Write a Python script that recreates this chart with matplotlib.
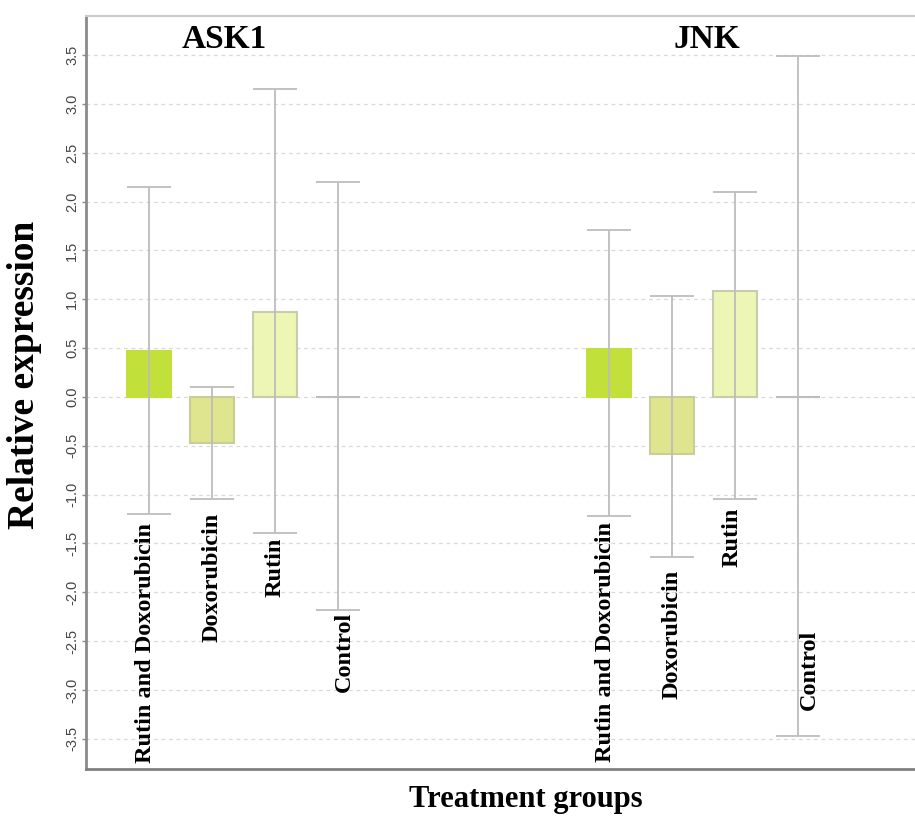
import matplotlib
matplotlib.use("Agg")
import matplotlib.pyplot as plt
import numpy as np

# data
groups = ["ASK1", "JNK"]
treatments = ["Rutin and Doxorubicin", "Doxorubicin", "Rutin", "Control"]

ask1_mean = [0.47, -0.47, 0.87, 0.0]
ask1_high = [2.15, 0.10, 3.15, 2.20]
ask1_low = [-1.20, -1.05, -1.39, -2.18]

jnk_mean = [0.49, -0.58, 1.08, 0.0]
jnk_high = [1.71, 1.03, 2.10, 3.49]
jnk_low = [-1.22, -1.64, -1.05, -3.47]

y_ticks = [-3.5, -3.0, -2.5, -2.0, -1.5, -1.0, -0.5, 0.0, 0.5, 1.0, 1.5, 2.0, 2.5, 3.0, 3.5]

# layout
SERIF = ["Liberation Serif", "DejaVu Serif"]
GROUP_X = [0.0, 7.3]
WIDTH = 0.7
FILL = ["#c1e03a", "#dfe58e", "#eef6b5", "#ffffff"]
EDGE = ["#c1e03a", "#c9cd98", "#c8ccae", "#bdbdbd"]
ERR = "#bdbdbd"
# label top positions (data units) and small x nudges
LABEL_Y = [[-1.29, -1.19, -1.44, -2.20], [-1.28, -1.77, -1.13, -2.38]]
LABEL_DX = [[-0.05, 0.0, 0.0, 0.1], [-0.05, 0.0, -0.05, 0.19]]

fig = plt.figure(figsize=(9.15, 8.16), dpi=100)
ax = fig.add_axes([0.094, 0.0576, 0.906, 0.9228])

means = [ask1_mean, jnk_mean]
highs = [ask1_high, jnk_high]
lows = [ask1_low, jnk_low]

for g, name in enumerate(groups):
    x = GROUP_X[g] + np.arange(len(treatments))
    m = np.array(means[g])
    hi = np.array(highs[g])
    lo = np.array(lows[g])
    ax.bar(x, m, width=WIDTH, color=FILL, edgecolor=EDGE, linewidth=1.5, zorder=2)
    ax.errorbar(x, m, yerr=[m - lo, hi - m], fmt="none", ecolor=ERR,
                elinewidth=1.3, capsize=15.8, capthick=1.3, zorder=3)
    for i, t in enumerate(treatments):
        ax.text(x[i] + LABEL_DX[g][i], LABEL_Y[g][i], t, rotation=90,
                ha="center", va="top", fontsize=17.5, fontweight="bold",
                family=SERIF)
    ax.text(GROUP_X[g] + 1.2 if g == 0 else GROUP_X[g] + 1.55, 3.66, name,
            ha="center", va="center", fontsize=24, fontweight="bold",
            family=SERIF)

ax.set_xlim(-1.0, 12.16)
ax.set_ylim(-3.81, 3.90)
ax.set_xticks([])
ax.set_yticks(y_ticks)
ax.set_yticklabels([f"{v:.1f}" for v in y_ticks], rotation=90, va="center",
                   fontsize=10.5, color="#444444", family="Liberation Sans")
ax.tick_params(axis="y", length=3, width=1, color="#888888", pad=2)
ax.yaxis.grid(True, linestyle=(0, (3, 3)), color="#d9d9d9", linewidth=0.9)
ax.set_axisbelow(True)

ax.spines["right"].set_visible(False)
ax.spines["top"].set_color("#cccccc")
ax.spines["top"].set_linewidth(1.5)
ax.spines["left"].set_color("#8a8a8a")
ax.spines["left"].set_linewidth(2)
ax.spines["bottom"].set_color("#808080")
ax.spines["bottom"].set_linewidth(2)

fig.text(25 / 915, 1 - 375 / 816, "Relative expression", rotation=90,
         ha="center", va="center", fontsize=27, fontweight="bold", family=SERIF)
fig.text(526 / 915, 1 - 800 / 816, "Treatment groups", ha="center",
         va="center", fontsize=22, fontweight="bold", family=SERIF)

fig.savefig("out.png", dpi=100)
